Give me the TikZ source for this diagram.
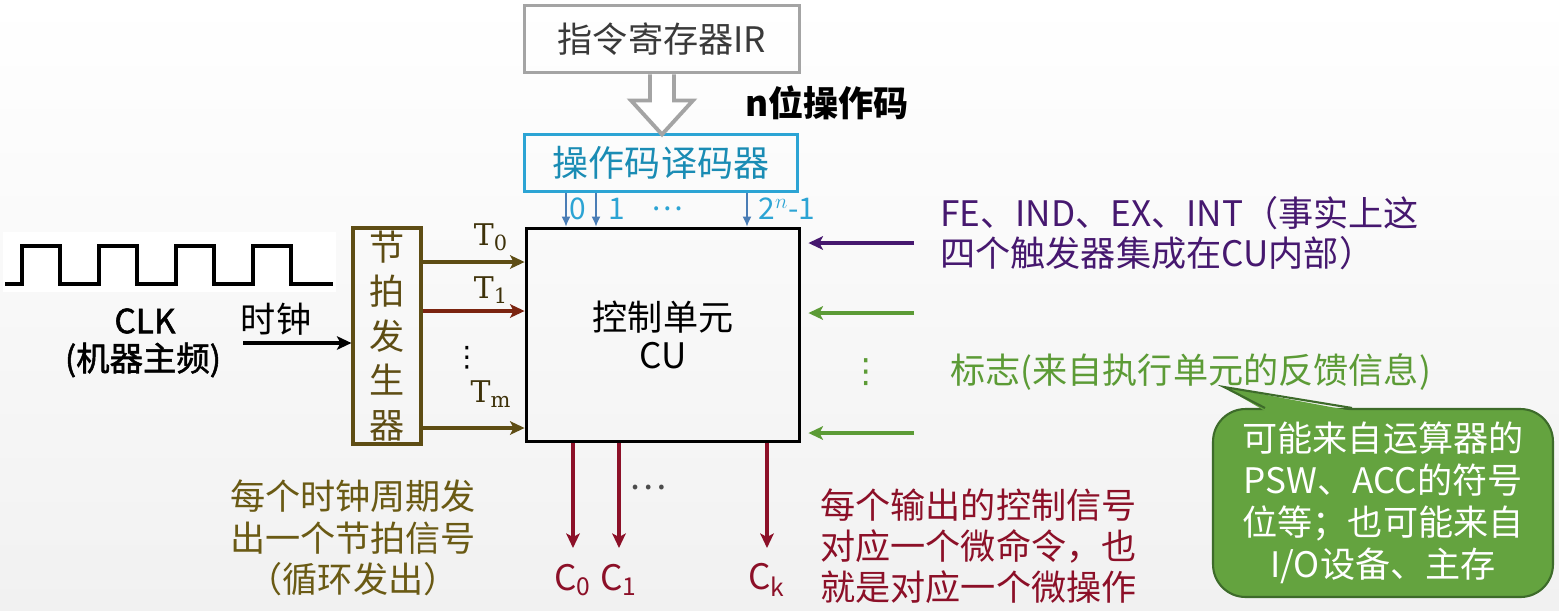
\documentclass[tikz,border=0pt]{standalone}
\usepackage[no-math]{fontspec}
\usepackage{xcolor}
\usepackage{tikz}
\setmainfont{Noto Sans CJK SC}
\newfontfamily\semib[FakeBold=1.6]{Noto Sans CJK SC}
\newfontfamily\tserif{DejaVu Serif}
\newfontfamily\symfont{DejaVu Sans}
\usetikzlibrary{arrows.meta,calc}
\definecolor{bggray}{HTML}{F1F1F1}
\definecolor{irgray}{HTML}{A4A4A4}
\definecolor{irtext}{HTML}{3A3A3A}
\definecolor{decblue}{HTML}{2CA4D4}
\definecolor{dectext}{HTML}{1A8CB4}
\definecolor{pinblue}{HTML}{4A7DB5}
\definecolor{beatbrown}{HTML}{5E4D14}
\definecolor{tlabel}{HTML}{3E320A}
\definecolor{noteolive}{HTML}{6A5A14}
\definecolor{t1red}{HTML}{7B2410}
\definecolor{cred}{HTML}{8C1028}
\definecolor{flagpurple}{HTML}{46186F}
\definecolor{flaggreen}{HTML}{5C9B36}
\definecolor{boxgreen}{HTML}{64A33F}
\definecolor{boxedge}{HTML}{3D6B2A}

\begin{document}
\begin{tikzpicture}[x=0.02cm, y=-0.02cm,
    lbl/.style={font=\fontsize{20}{24}\selectfont, inner sep=0pt},
    unit/.style={draw, line width=2.2pt, inner sep=0pt},
    sig/.style={line width=1.9pt, -{Stealth[length=2.9mm, width=2.7mm, inset=0.7mm]}},
    pin/.style={pinblue, line width=0.8pt, -{Latex[length=2mm, width=1.8mm]}}]
  \useasboundingbox (0,0) rectangle (1559,610);
  \shade[top color=white, bottom color=bggray] (0,0) rectangle (1559,610);
  \fill[white] (3,232) rectangle (336,292);

  \node[unit, irgray, minimum width=5.5cm, minimum height=1.34cm, lbl, text=irtext] (ir) at (662,39) {指令寄存器IR};
  \node[unit, decblue, minimum width=5.46cm, minimum height=1.14cm, lbl, text=dectext,
        font=\fontsize{20.5}{24}\selectfont] (dec) at (661,163) {操作码译码器};
  \node[unit, minimum width=5.46cm, minimum height=4.26cm, lbl, align=center,
        font=\fontsize{20}{21.5}\selectfont] (cu) at (663,335) {控制单元\\CU};
  \node[unit, beatbrown, line width=1.8pt, minimum width=1.36cm, minimum height=4.32cm, lbl,
        text=beatbrown, align=center, font=\fontsize{20}{25.3}\selectfont] (beat) at (387,336)
        {节\\拍\\发\\生\\器};

  \draw[irgray, line width=2.2pt, fill=white] (ir.south) ++(-12,0) -- ++(0,26) -- ++(-19,0)
    -- ++(31,34) -- ++(31,-34) -- ++(-19,0) -- ++(0,-26);
  \node[lbl, font=\bfseries\fontsize{20}{24}\selectfont, anchor=west] (opc) at (745,103) {n位操作码};

  \foreach \xx in {566,596,747}
    \draw[pin] (\xx,0 |- dec.south) -- (\xx,0 |- cu.north);
  \foreach[count=\i] \xx/\lab in {578/0, 617/1, 667/…, 787/2$^{n}$-1}
    \node[lbl, text=decblue, font=\fontsize{17}{20}\selectfont] (out\i) at (\xx,209) {\lab};

  \draw[line width=1.8pt] (5,284) \foreach \i in {0,...,3} {
      -- (22+77*\i,284) -- ++(0,-38) -- ++(38,0) -- ++(0,38) } -- (333,284);
  \node[lbl, font=\semib\fontsize{19}{24}\selectfont] (clk) at (145,321) {CLK};
  \node[lbl, font=\semib\fontsize{19}{24}\selectfont] (freq) at (143,360) {(机器主频)};
  \node[lbl] (clkname) at (276,319) {时钟};
  \coordinate (clkin) at (243,343);
  \draw[sig] (clkin) -- (clkin -| beat.west);

  \foreach \yy/\col in {262/beatbrown, 311/t1red, 428/beatbrown}
    \draw[sig, \col] (beat.east |- 0,\yy) -- (cu.west |- 0,\yy);
  \foreach \yy/\lab in {237/0, 290/1, 394/m}
    \node[text=tlabel, font=\tserif\fontsize{17}{22}\selectfont, inner sep=0pt] (t\lab) at (491,\yy) {T\textsubscript{\lab}};
  \node[font=\symfont\fontsize{16}{20}\selectfont, inner sep=0pt] (tdots) at (467,358) {⋮};

  \foreach \yy/\col in {243/flagpurple, 313/flaggreen, 433/flaggreen} {
    \coordinate (in\yy) at (914,\yy);
    \draw[sig, \col, shorten >=4pt] (in\yy) -- (in\yy -| cu.east);
  }
  \node[text=flaggreen, font=\symfont\fontsize{19}{20}\selectfont, inner sep=0pt] (gdots) at (866,372) {⋮};
  \node[lbl, text=flagpurple, anchor=west, align=left, font=\fontsize{20}{23}\selectfont] (fe) at (940,233)
    {FE、IND、EX、INT（事实上这\\四个触发器集成在CU内部）};
  \node[lbl, text=flaggreen, anchor=west] (flag) at (950,372) {标志(来自执行单元的反馈信息)};

  \node[lbl, fill=boxgreen, draw=boxedge, line width=1.2pt, rounded corners=0.65cm, text=white,
        align=center, minimum width=6.8cm, minimum height=3.76cm, font=\fontsize{20}{24}\selectfont]
        (note) at (1383,503) {可能来自运算器的\\PSW、ACC的符号\\位等；也可能来自\\I/O设备、主存};
  \coordinate (tip) at (1224,387);
  \fill[boxgreen] ($(note.north)+(-118,3)$) -- (tip) -- ($(note.north)+(-31,3)$) -- cycle;
  \draw[boxedge, line width=1.2pt] ($(note.north)+(-118,0)$) -- (tip) -- ($(note.north)+(-31,0)$);

  \foreach \xx/\ss in {573/0, 619/1, 767/k} {
    \coordinate (cend\ss) at (\xx,548);
    \draw[sig, cred, line width=2.2pt] (\xx,0 |- cu.south) -- (cend\ss);
    \node[lbl, text=cred] (c\ss) at (\xx,580) {C\textsubscript{\ss}};
  }
  \node[lbl, text=black!70] (cdots) at (648,488) {…};

  \node[lbl, text=noteolive, align=center, font=\fontsize{20}{23.5}\selectfont] (beatnote) at (353,538)
    {每个时钟周期发\\出一个节拍信号\\（循环发出）};
  \node[lbl, text=cred, align=left, anchor=west, font=\fontsize{20}{23.5}\selectfont] (cnote) at (820,546)
    {每个输出的控制信号\\对应一个微命令，也\\就是对应一个微操作};
\end{tikzpicture}
\end{document}
